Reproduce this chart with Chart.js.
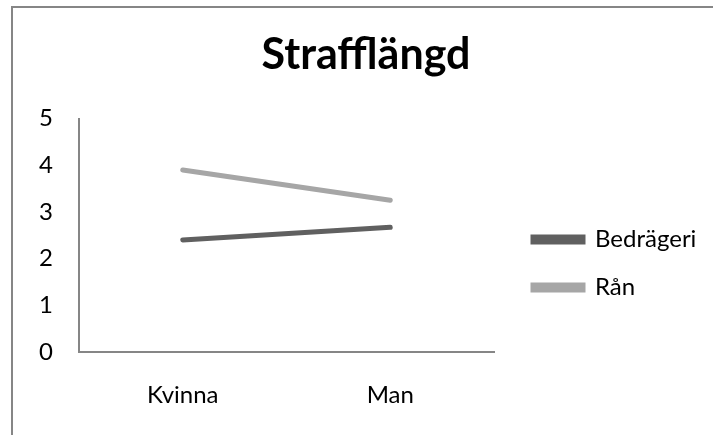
<!DOCTYPE html>
<html lang="sv">
<head>
    <meta charset="UTF-8">
    <title>Strafflängd</title>
    <style>
        html, body { margin: 0; padding: 0; background: #fff; overflow: hidden; }
        #wrap { position: relative; width: 713px; height: 435px; }
        /* chart frame, only top and left edges are visible in the crop */
        #frame {
            position: absolute; left: 11px; top: 6px; width: 720px; height: 440px;
            border-left: 2px solid #868686; border-top: 2px solid #868686;
            box-sizing: border-box; pointer-events: none;
        }
        canvas { position: absolute; left: 0; top: 0; }
    </style>
</head>
<body>
<div id="wrap">
    <canvas id="chart" width="713" height="435"></canvas>
    <div id="frame"></div>
</div>

<script src="https://cdn.jsdelivr.net/npm/chart.js"></script>
<script>
// Data
const categories = ['Kvinna', 'Man'];
const bedrageri = [2.4, 2.67];
const ran = [3.9, 3.25];
const yTicks = [0, 1, 2, 3, 4, 5];

const font = "'Lato', 'Open Sans', sans-serif";
Chart.defaults.font.family = font;
Chart.defaults.color = '#000';

// Excel puts the legend a bit away from the plot and lower down
const legendTweak = {
    id: 'legendTweak',
    beforeLayout(chart) {
        const lg = chart.legend;
        if (lg && !lg._tweaked) {
            const fit = lg.fit;
            lg.fit = function () { fit.call(this); this.width = 210; };
            lg._tweaked = true;
        }
    },
    afterLayout(chart) {
        const lg = chart.legend;
        if (!lg) return;
        lg.left = chart.chartArea.right + 15;
        lg.right = lg.left + lg.width;
        lg.top += 50;
        lg.bottom += 50;
    }
};

new Chart(document.getElementById('chart'), {
    type: 'line',
    data: {
        labels: categories,
        datasets: [
            {
                label: 'Bedrägeri',
                data: bedrageri,
                borderColor: '#606060',
                backgroundColor: '#606060',
                borderWidth: 5,
                borderCapStyle: 'round',
                pointRadius: 0
            },
            {
                label: 'Rån',
                data: ran,
                borderColor: '#a6a6a6',
                backgroundColor: '#a6a6a6',
                borderWidth: 5,
                borderCapStyle: 'round',
                pointRadius: 0
            }
        ]
    },
    options: {
        responsive: false,
        animation: false,
        layout: { padding: { left: 28, right: 9, top: 20, bottom: 28 } },
        plugins: {
            title: {
                display: true,
                text: 'Strafflängd',
                font: { size: 43, weight: 'bold', family: font },
                color: '#000',
                padding: { top: 9, bottom: 38 }
            },
            legend: {
                position: 'right',
                labels: {
                    boxWidth: 50,
                    boxHeight: 5,
                    padding: 24,
                    font: { size: 24, family: font },
                    color: '#000'
                }
            },
            tooltip: { enabled: false }
        },
        scales: {
            x: {
                offset: true,
                afterFit: s => { s.height = 55; },
                grid: { display: false, drawTicks: false },
                border: { display: true, color: '#868686', width: 2 },
                ticks: { padding: 29, font: { size: 24, family: font }, color: '#000' }
            },
            y: {
                min: 0,
                max: 5,
                afterFit: s => { s.width = 51; },
                afterBuildTicks: axis => { axis.ticks = yTicks.map(v => ({ value: v })); },
                grid: { display: false, drawTicks: false },
                border: { display: true, color: '#868686', width: 2 },
                ticks: { padding: 26, font: { size: 24, family: font }, color: '#000' }
            }
        }
    },
    plugins: [legendTweak]
});
</script>
</body>
</html>
